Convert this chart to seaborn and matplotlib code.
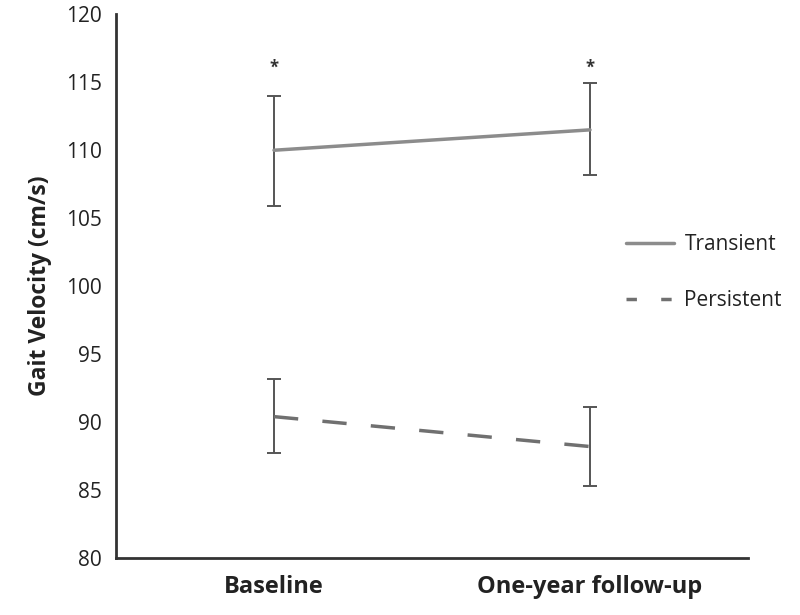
import numpy as np
import pandas as pd
import matplotlib
matplotlib.use("Agg")
import matplotlib.pyplot as plt
import seaborn as sns
from matplotlib.lines import Line2D

# Dados
tempos = ["Baseline", "One-year follow-up"]
grupos = ["Transient", "Persistent"]
media_transient = [110.0, 111.5]
erro_inf_transient = [105.9, 108.2]
erro_sup_transient = [114.0, 114.95]
media_persistent = [90.4, 88.2]
erro_inf_persistent = [87.7, 85.3]
erro_sup_persistent = [93.2, 91.1]
asterisco_y = [116.1, 116.1]

df = pd.DataFrame({
    "tempo": tempos * 2,
    "grupo": [grupos[0]] * 2 + [grupos[1]] * 2,
    "velocidade": media_transient + media_persistent,
})

sns.set_style("white")
plt.rcParams["font.family"] = ["Open Sans", "DejaVu Sans"]

fig = plt.figure(figsize=(8, 6.15), dpi=100)
ax = fig.add_axes([0.145, 0.0927, 0.79, 0.884])

sns.lineplot(data=df, x="tempo", y="velocidade", hue="grupo", style="grupo",
             palette={"Transient": "#8c8c8c", "Persistent": "#707070"},
             dashes={"Transient": "", "Persistent": (7, 7)},
             linewidth=2.5, ax=ax, legend=False)

# Barras de erro
x = np.arange(len(tempos))
for med, inf, sup in [(media_transient, erro_inf_transient, erro_sup_transient),
                      (media_persistent, erro_inf_persistent, erro_sup_persistent)]:
    med = np.array(med)
    yerr = [med - np.array(inf), np.array(sup) - med]
    ax.errorbar(x, med, yerr=yerr, fmt="none", ecolor="#555555",
                elinewidth=1.4, capsize=5, capthick=1.4, zorder=1)

for xi, yi in zip(x, asterisco_y):
    ax.text(xi, yi, "*", ha="center", va="center", fontsize=12,
            fontweight="bold", color="#333333")

ax.set_xlim(-0.5, 1.5)
ax.set_ylim(80, 120)
ax.set_yticks(np.arange(80, 121, 5))
ax.set_xticks(x)
ax.set_xticklabels(tempos, fontsize=17, fontweight="bold", color="#222222")
ax.set_xticks([-0.5, 0.5, 1.5], minor=True)
ax.tick_params(axis="x", which="major", length=0, pad=12)
ax.tick_params(axis="x", which="minor", length=5, width=1.5, color="#333333")
ax.tick_params(axis="y", length=5, width=1.5, color="#333333",
               labelsize=15, labelcolor="#222222", pad=5)
ax.tick_params(direction="out")
ax.set_xlabel("")
ax.set_ylabel("Gait Velocity (cm/s)", fontsize=16.5, fontweight="bold",
              color="#222222", labelpad=10)

sns.despine(ax=ax)
for s in ["left", "bottom"]:
    ax.spines[s].set_color("#333333")
    ax.spines[s].set_linewidth(2)

# Legenda
handles = [Line2D([], [], color="#8c8c8c", lw=2.5),
           Line2D([], [], color="#707070", lw=2.5, dashes=(3, 7))]
leg = ax.legend(handles, grupos, loc="center left", bbox_to_anchor=(0.784, 0.525),
                frameon=False, fontsize=15, handlelength=2.3,
                labelspacing=1.7, handletextpad=0.5, borderpad=0.2)
for t in leg.get_texts():
    t.set_color("#222222")

fig.savefig("out.png", dpi=100)
